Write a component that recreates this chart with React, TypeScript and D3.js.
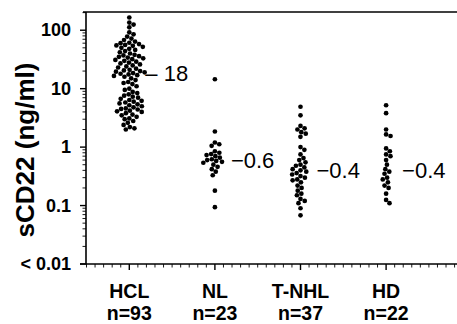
import React from "react";
import * as d3 from "d3";

const categories = ["HCL", "NL", "T-NHL", "HD"];
const countLabels = ["n=93", "n=23", "n=37", "n=22"];
const medians = [18, 0.6, 0.4, 0.4];
const medianLabels = ["\u2013 18", "\u22120.6", "\u22120.4", "\u22120.4"];

const hclValues = [
  165, 135, 125, 112,
  92, 85, 78, 72, 68, 64, 61, 60,
  58, 56, 55, 54, 52, 50, 48, 46, 44, 42, 40, 38, 37, 36, 35, 34, 33, 32, 31, 30,
  29, 28, 27, 26, 25, 24, 23, 22, 21, 20.5, 20, 19.5, 19, 18.5,
  18, 17.5, 17, 16.5, 16, 15, 14, 13, 12.5, 12,
  11, 10, 9.5,
  8.8, 8.4, 8, 7.6, 7.3, 7, 6.7, 6.4, 6.2, 6, 5.8, 5.6, 5.4, 5.2, 5, 4.8, 4.6, 4.5, 4.4, 4.2, 4.1, 4.0,
  3.8, 3.6, 3.5, 3.3, 3.1, 3.0, 2.8, 2.6, 2.4, 2.2, 2.1, 2.0,
];
const nlValues = [
  14.5, 1.85, 1.2, 1.12, 1.05, 0.85, 0.8, 0.76, 0.73, 0.7, 0.66, 0.62, 0.6,
  0.58, 0.56, 0.54, 0.5, 0.46, 0.42, 0.38, 0.33, 0.18, 0.094,
];
const tnhlValues = [
  4.9, 3.5, 2.3, 2.1, 2.0, 1.8, 1.7, 1.5, 1.0, 0.9, 0.75, 0.65, 0.6, 0.55, 0.5, 0.48, 0.45, 0.42,
  0.4,
  0.38, 0.36, 0.34, 0.32, 0.3, 0.28, 0.27, 0.25, 0.22, 0.2, 0.18, 0.16, 0.15, 0.13, 0.12, 0.11, 0.09, 0.068,
];
const hdValues = [
  5.2, 3.8, 2.0, 1.65, 1.55, 0.95, 0.85, 0.75, 0.7, 0.6, 0.5, 0.42,
  0.38, 0.35, 0.3, 0.28, 0.25, 0.22, 0.2, 0.16, 0.125, 0.11,
];
const seriesValues = [hclValues, nlValues, tnhlValues, hdValues];

const yMajorTicks = [100, 10, 1, 0.1, 0.01];
const yTickLabels = ["100", "10", "1", "0.1", "< 0.01"];

const W = 457;
const H = 324;
const FONT = "'Liberation Sans', Arial, Helvetica, sans-serif";

const y = d3.scaleLog().domain([0.01, 205]).range([264, 12]);
const x = d3.scaleLinear().domain([0.5, 4.85]).range([86.5, 86.5 + 4.35 * 85.6]);

const R = 2.35;

function swarm(values: number[], cx: number) {
  const d = 2 * R;
  const pts = values.map((v) => ({ v, py: y(v) })).sort((a, b) => a.py - b.py);
  const placed: { x: number; y: number }[] = [];
  for (const p of pts) {
    const near = placed.filter((q) => Math.abs(q.y - p.py) < d);
    const cands = [0];
    for (const q of near) {
      const dx = Math.sqrt(d * d - (q.y - p.py) ** 2);
      cands.push(q.x + dx, q.x - dx);
    }
    cands.sort((a, b) => Math.abs(a) - Math.abs(b));
    let best = 0;
    for (const c of cands) {
      if (near.every((q) => (q.x - c) ** 2 + (q.y - p.py) ** 2 >= d * d - 1e-6)) {
        best = c;
        break;
      }
    }
    placed.push({ x: best, y: p.py });
  }
  return placed.map((p) => ({ x: cx + p.x, y: p.y }));
}

export default function App() {
  const yMinor: number[] = [];
  for (let k = -2; k <= 2; k++) {
    for (let m = 2; m <= 9; m++) {
      const v = m * Math.pow(10, k);
      if (v <= 205) yMinor.push(v);
    }
  }
  const xMinor = d3.range(5, 49).map((i) => i / 10).filter((v) => Math.abs(v - Math.round(v)) > 1e-6);

  return (
    <svg
      width={W}
      height={H}
      style={{ position: "absolute", left: 0, top: 0, background: "#fff" }}
      fontFamily={FONT}
    >
      {/* axes */}
      <line x1={83} x2={W + 2} y1={12} y2={12} stroke="#000" strokeWidth={1.6} />
      <line x1={86} x2={86} y1={12} y2={264} stroke="#000" strokeWidth={1.6} />
      <line x1={80} x2={W + 2} y1={264} y2={264} stroke="#000" strokeWidth={1.6} />
      {yMajorTicks.map((t, i) => (
        <g key={"ym" + i}>
          <line x1={80} x2={86} y1={y(t)} y2={y(t)} stroke="#000" strokeWidth={1.4} />
          <text
            x={71}
            y={y(t)}
            textAnchor="end"
            dominantBaseline="central"
            fontWeight="bold"
            fontSize={18}
          >
            {yTickLabels[i]}
          </text>
        </g>
      ))}
      {yMinor.map((t, i) => (
        <line key={"yn" + i} x1={82.5} x2={86} y1={y(t)} y2={y(t)} stroke="#000" strokeWidth={0.9} />
      ))}
      {xMinor.map((t, i) => (
        <line key={"xn" + i} x1={x(t)} x2={x(t)} y1={264} y2={267.5} stroke="#000" strokeWidth={0.9} />
      ))}
      {categories.map((c, i) => (
        <g key={"xc" + i}>
          <line x1={x(i + 1)} x2={x(i + 1)} y1={264} y2={270} stroke="#000" strokeWidth={1.4} />
          <text x={x(i + 1)} y={297.5} textAnchor="middle" fontWeight="bold" fontSize={19.5}>
            {c}
          </text>
          <text x={x(i + 1)} y={319.5} textAnchor="middle" fontWeight="bold" fontSize={19.5}>
            {countLabels[i]}
          </text>
        </g>
      ))}
      <text
        transform={`translate(25,150) rotate(-90)`}
        textAnchor="middle"
        dominantBaseline="central"
        fontWeight="bold"
        fontSize={26}
      >
        sCD22 (ng/ml)
      </text>
      {/* dots */}
      {seriesValues.map((vals, i) =>
        swarm(vals, x(i + 1)).map((p, j) => (
          <circle key={"d" + i + "-" + j} cx={p.x} cy={p.y} r={R} fill="#000" />
        ))
      )}
      {/* medians */}
      {medians.map((m, i) => (
        <text
          key={"md" + i}
          x={x(i + 1) + 16}
          y={y(m)}
          dominantBaseline="central"
          fontSize={22}
        >
          {medianLabels[i]}
        </text>
      ))}
    </svg>
  );
}
